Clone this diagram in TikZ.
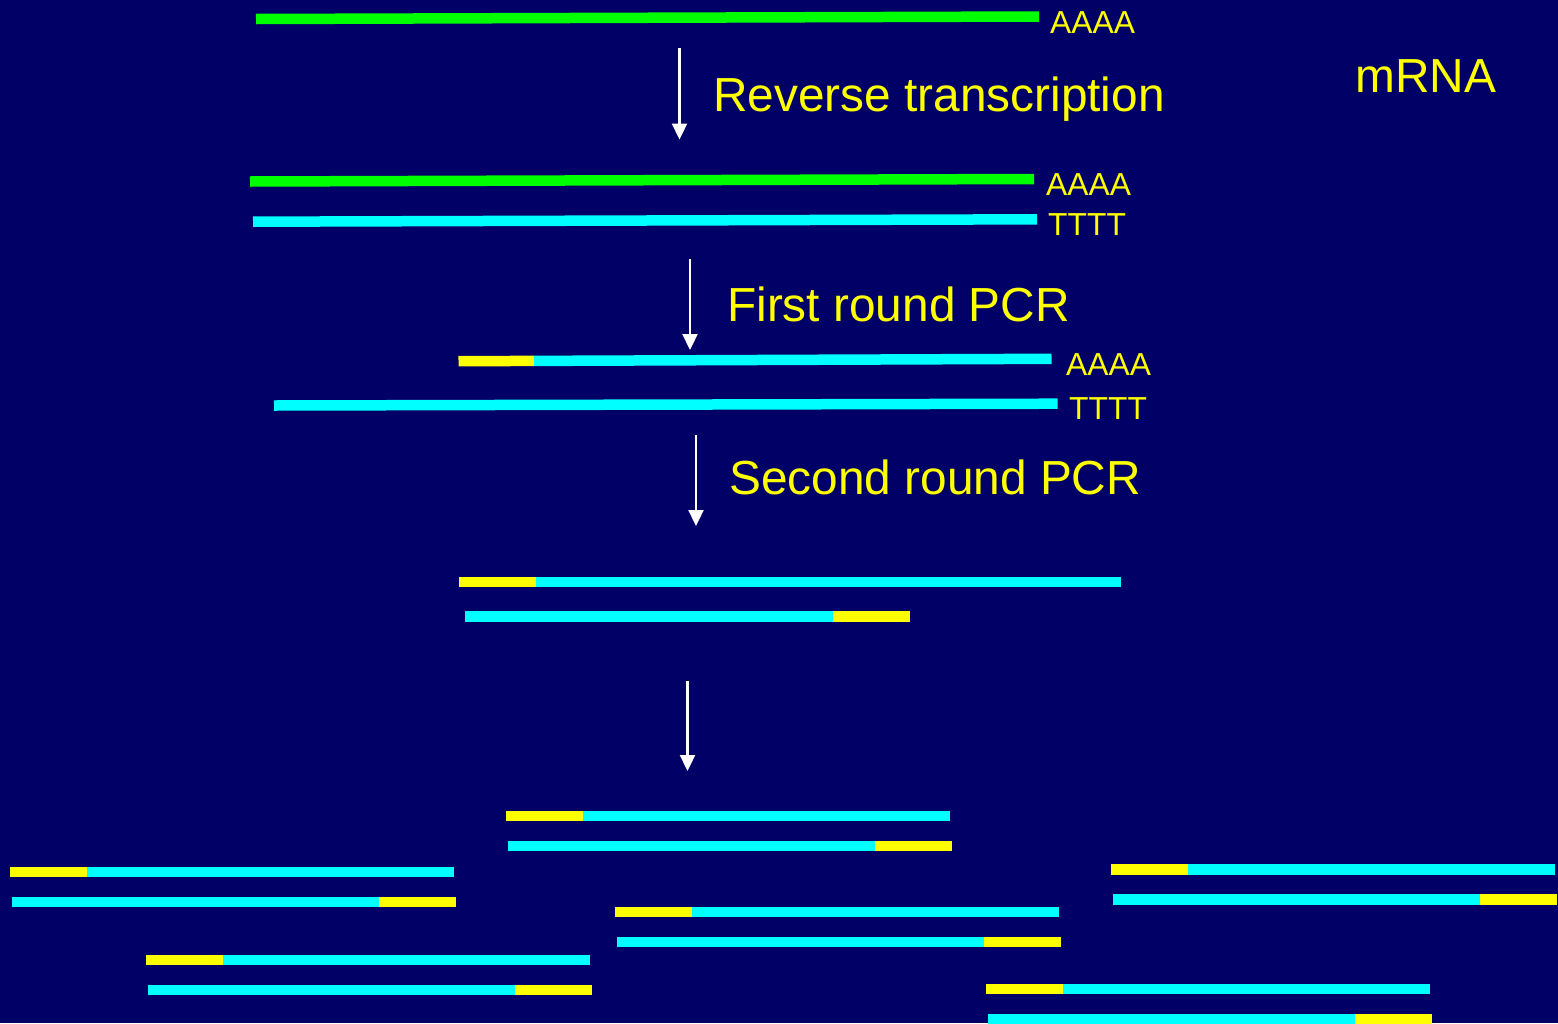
\documentclass[tikz,border=0pt]{standalone}
\usepackage{fontspec}
\setmainfont{Liberation Sans}
\usetikzlibrary{arrows.meta}
\definecolor{bgnavy}{RGB}{0,0,102}
\definecolor{rnagreen}{RGB}{0,255,0}
\definecolor{dnacyan}{RGB}{0,255,255}
\definecolor{primeryellow}{RGB}{255,255,0}
\tikzset{
  strand/.style={line width=10.5pt, line cap=butt},
  rna/.style={strand, draw=rnagreen},
  dna/.style={strand, draw=dnacyan},
  primer/.style={strand, draw=primeryellow},
  steparrow/.style={draw=white, line width=2.3pt,
    -{Triangle[width=15pt,length=16pt]}, shorten >=0pt},
  bigtext/.style={text=primeryellow, font=\fontsize{47.8}{56}\selectfont, inner sep=0pt, anchor=base west},
  endtext/.style={text=primeryellow, font=\fontsize{31.8}{36}\selectfont, inner sep=0pt, anchor=base west},
  % double-stranded product: primer-tagged top strand over complementary bottom strand
  amplicon/.pic={
    \draw[primer] (0,0) -- (77,0);
    \draw[dna] (77,0) -- (444,0);
    \draw[dna] (2,30) -- (369,30);
    \draw[primer] (369,30) -- (446,30);
  }
}
\begin{document}
\begin{tikzpicture}[x=1pt,y=-1pt]
\useasboundingbox (0,0) rectangle (1558,1023);
\fill[bgnavy] (0,0) rectangle (1558,1023);

% mRNA
\draw[rna] (256,19) -- (1039,16.5);
\node[endtext] (polyA1) at (1050,33) {AAAA};
\node[bigtext] (mrna) at (1355,92) {mRNA};

% reverse transcription
\coordinate (a1s) at (679.5,48);
\coordinate (a1e) at (679.5,139.5);
\draw[steparrow] (a1s) -- (a1e);
\node[bigtext] (rt) at (713,111) {Reverse transcription};

% RNA/cDNA hybrid
\draw[rna] (250,181.5) -- (1034,179);
\draw[dna] (253,221.7) -- (1037,219.3);
\node[endtext] (polyA2) at (1046,195) {AAAA};
\node[endtext] (polyT2) at (1048,235) {TTTT};

% first round PCR
\coordinate (a2s) at (690,259);
\coordinate (a2e) at (690,350);
\draw[steparrow] (a2s) -- (a2e);
\node[bigtext] (pcr1) at (727,321) {First round PCR};

\draw[primer] (458.5,361.2) -- (534,360.9);
\draw[dna] (534,360.9) -- (1051.5,358.8);
\draw[dna] (274,405.5) -- (1057.5,403.7);
\node[endtext] (polyA3) at (1066,375) {AAAA};
\node[endtext] (polyT3) at (1069,419) {TTTT};

% second round PCR
\coordinate (a3s) at (696,435);
\coordinate (a3e) at (696,526);
\draw[steparrow] (a3s) -- (a3e);
\node[bigtext] (pcr2) at (729,494) {Second round PCR};

\draw[primer] (458.5,582) -- (535.5,582);
\draw[dna] (535.5,582) -- (1121,582);
\draw[dna] (465,616.3) -- (832.5,616.3);
\draw[primer] (832.5,616.3) -- (909.5,616.3);

% amplification
\coordinate (a4s) at (687.5,680.5);
\coordinate (a4e) at (687.5,771);
\draw[steparrow] (a4s) -- (a4e);

\pic at (506,816) {amplicon};
\pic at (10,872) {amplicon};
\pic at (146,960) {amplicon};
\pic at (615,912) {amplicon};
\pic at (1111,869.5) {amplicon};
\pic at (986,989) {amplicon};
\end{tikzpicture}
\end{document}
